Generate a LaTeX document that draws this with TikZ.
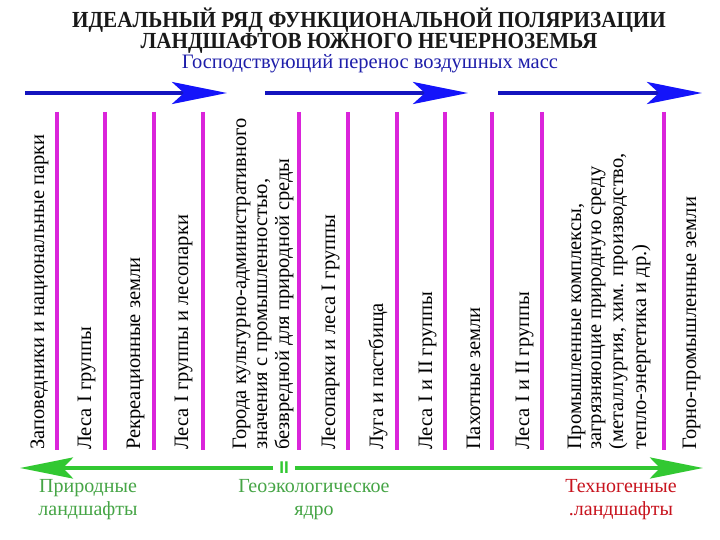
\documentclass[tikz,border=0pt]{standalone}
\usepackage{fontspec}
\setmainfont{Liberation Serif}
\newfontfamily\sansf{Liberation Sans}
\usetikzlibrary{arrows.meta}
\definecolor{mag}{RGB}{218,36,218}
\definecolor{arrblue}{RGB}{20,20,190}
\definecolor{headblue}{RGB}{20,20,250}
\definecolor{grn}{RGB}{50,200,50}
\definecolor{grntext}{RGB}{70,165,70}
\definecolor{redtext}{RGB}{200,20,30}
\definecolor{subblue}{RGB}{30,30,170}
\definecolor{titlecol}{RGB}{25,25,25}
\begin{document}
\begin{tikzpicture}[x=1pt,y=-1pt,
  vtext/.style={rotate=90,anchor=base west,inner sep=0pt,font=\rmfamily\fontsize{20.5}{22}\selectfont},
  sepline/.style={draw=mag,line width=4pt},
  windarrow/.style={draw=arrblue,line width=3.5pt,-{Stealth[length=55pt,width=22pt,inset=12pt,fill=headblue,color=headblue]}},
  greenarrow/.style={draw=grn,line width=4pt,-{Stealth[length=53pt,width=21pt,inset=10pt,fill=grn,color=grn]}},
  titlestyle/.style={anchor=center,inner sep=0pt,align=center,text=titlecol,xscale=0.92,font=\rmfamily\bfseries\fontsize{23}{19.5}\selectfont},
  labstyle/.style={anchor=base,inner sep=0pt,font=\rmfamily\fontsize{20}{23}\selectfont,align=center}
]
\fill[white] (0,0) rectangle (720,540);
\useasboundingbox (0,0) rectangle (720,540);

% title
\node[titlestyle] (title) at (369,31) {ИДЕАЛЬНЫЙ РЯД ФУНКЦИОНАЛЬНОЙ ПОЛЯРИЗАЦИИ\\ЛАНДШАФТОВ ЮЖНОГО НЕЧЕРНОЗЕМЬЯ};
\node[anchor=base,inner sep=0pt,text=subblue,font=\rmfamily\fontsize{20.5}{23}\selectfont] (sub) at (370,69) {Господствующий перенос воздушных масс};

% wind arrows
\coordinate (w1s) at (25,93);  \coordinate (w1e) at (227,93);
\coordinate (w2s) at (265,93); \coordinate (w2e) at (468,93);
\coordinate (w3s) at (498,93); \coordinate (w3e) at (702,93);
\draw[windarrow] (w1s) -- (w1e);
\draw[windarrow] (w2s) -- (w2e);
\draw[windarrow] (w3s) -- (w3e);

% separators
\foreach \x in {57,105,154,203,299,348,397,445,492,542,664}
  \draw[sepline] (\x,112) -- (\x,450);

% vertical texts
\node[vtext] (c1) at (44,450) {Заповедники и национальные парки};
\node[vtext] (c2) at (91,450) {Леса I группы};
\node[vtext] (c3) at (140,450) {Рекреационные земли};
\node[vtext] (c4) at (188,450) {Леса I группы и лесопарки};
\node[vtext] (c5a) at (246,450) {Города культурно-административного};
\node[vtext] (c5b) at (267,450) {значения с промышленностью,};
\node[vtext] (c5c) at (289,450) {безвредной для природной среды};
\node[vtext] (c6) at (335,450) {Лесопарки и леса I группы};
\node[vtext] (c7) at (383,450) {Луга и пастбища};
\node[vtext] (c8) at (432,450) {Леса I и II группы};
\node[vtext] (c9) at (480,450) {Пахотные земли};
\node[vtext] (c10) at (529,450) {Леса I и II группы};
\node[vtext] (c11a) at (581,450) {Промышленные комплексы,};
\node[vtext] (c11b) at (601,450) {загрязняющие природную среду};
\node[vtext] (c11c) at (623,450) {(металлургия, хим. производство,};
\node[vtext] (c11d) at (646,450) {тепло-энергетика и др.)};
\node[vtext] (c12) at (696,450) {Горно-промышленные земли};

% bottom green arrow
\node[inner sep=0pt,text=grn,font=\sansf\bfseries\fontsize{17}{17}\selectfont] (core) at (284,468) {II};
\coordinate (gL) at (20,468);
\coordinate (gR) at (703,468);
\draw[greenarrow] (core.west) ++(-6,0) coordinate (gLs) -- (gL);
\draw[greenarrow] (core.east) ++(6,0) coordinate (gRs) -- (gR);

% bottom labels
\node[labstyle,text=grntext] (nat1) at (88,492) {Природные};
\node[labstyle,text=grntext] (nat2) at (88,515) {ландшафты};
\node[labstyle,text=grntext] (geo1) at (314,492) {Геоэкологическое};
\node[labstyle,text=grntext] (geo2) at (314,515) {ядро};
\node[labstyle,text=redtext] (tech1) at (621,492) {Техногенные};
\node[labstyle,text=redtext] (tech2) at (621,515) {.ландшафты};
\end{tikzpicture}
\end{document}
